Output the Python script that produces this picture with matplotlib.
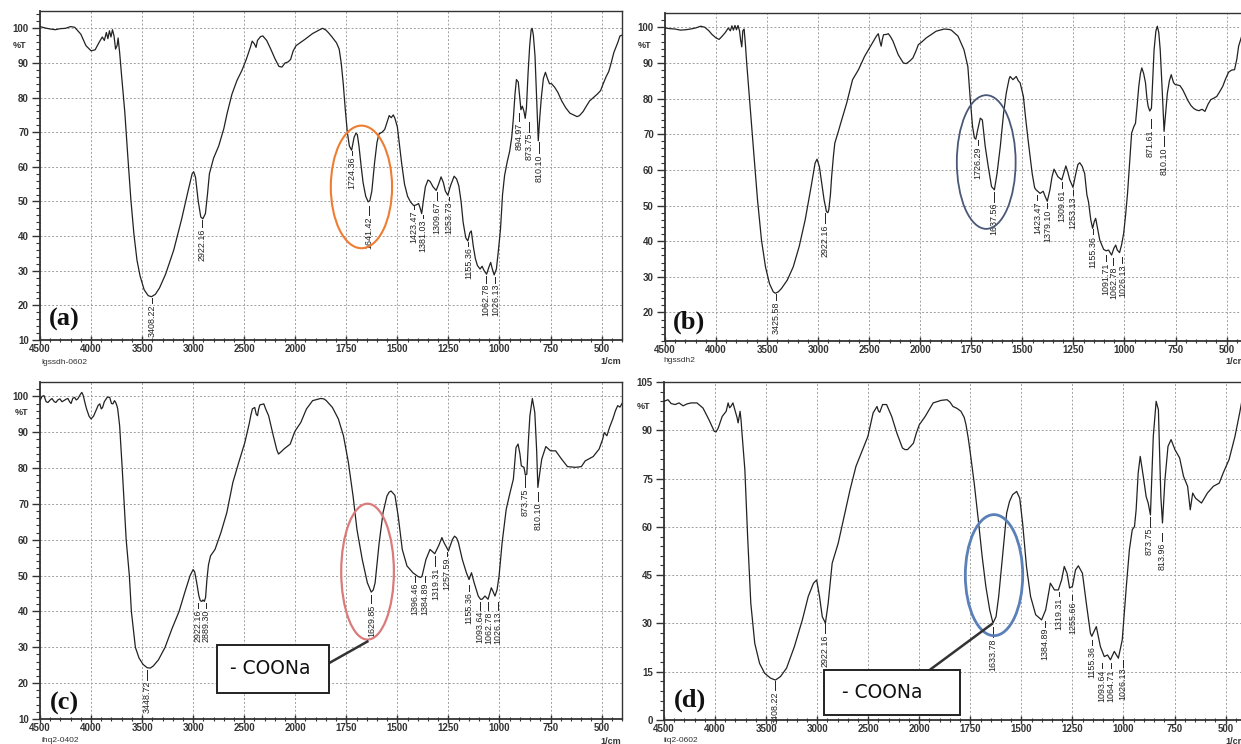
import numpy as np
import matplotlib
matplotlib.use("Agg")
import matplotlib.pyplot as plt
from matplotlib.patches import Ellipse, Rectangle

W, H = 1241, 744

# ---------------- spectra (wavenumber, %T) ----------------
wn_a = [4500, 4450, 4400, 4350, 4300, 4250, 4200, 4160, 4100, 4050, 4000, 3960, 3920, 3890, 3870, 3850, 3835,
        3820, 3805, 3790, 3775, 3760, 3745, 3735, 3720, 3700, 3670, 3640, 3610, 3580, 3550, 3520, 3480, 3440,
        3408, 3370, 3330, 3270, 3190, 3112, 3054, 3010, 2995, 2977, 2950, 2925, 2905, 2880, 2860, 2841, 2800,
        2750, 2700, 2667, 2620, 2570, 2520, 2480, 2440, 2422, 2400, 2384, 2370, 2340, 2318, 2280, 2240, 2200,
        2160, 2130, 2100, 2070, 2046, 2020, 1996, 1953, 1915, 1880, 1866, 1850, 1837, 1820, 1798, 1785, 1775,
        1765, 1755, 1745, 1735, 1724, 1712, 1703, 1696, 1688, 1678, 1668, 1655, 1643, 1635, 1625, 1612, 1600,
        1590, 1575, 1562, 1550, 1540, 1530, 1520, 1512, 1500, 1490, 1479, 1465, 1450, 1435, 1420, 1408, 1396,
        1388, 1381, 1372, 1363, 1350, 1340, 1325, 1310, 1298, 1286, 1275, 1265, 1253, 1240, 1222, 1210, 1199,
        1188, 1178, 1165, 1155, 1145, 1138, 1128, 1118, 1108, 1095, 1085, 1075, 1063, 1052, 1043, 1035, 1026,
        1015, 1005, 995, 985, 975, 962, 950, 940, 932, 924, 917, 908, 900, 895, 888, 880, 874, 868, 860, 852,
        845, 840, 834, 826, 818, 810, 803, 795, 785, 775, 765, 755, 745, 730, 714, 695, 675, 655, 637, 620, 608,
        590, 575, 559, 540, 521, 505, 492, 478, 465, 453, 440, 430, 420, 410, 400]
t_a = [100.5, 100.1, 99.8, 99.6, 99.9, 100.0, 100.5, 100.3, 98.3, 95.0, 93.5, 93.8, 96.0, 97.5, 96.5, 98.8, 97.0,
       99.3, 97.5, 99.6, 97.8, 94.0, 95.0, 97.2, 93.0, 86.0, 76.0, 63.0, 50.5, 40.5, 33.0, 28.5, 24.5, 22.8,
       22.5, 23.2, 25.0, 29.0, 36.0, 45.0, 52.5, 58.0, 58.6, 57.0, 50.0, 45.5, 45.0, 46.5, 52.0, 58.0, 62.5,
       66.0, 71.0, 75.5, 81.0, 85.0, 88.0, 91.0, 94.5, 96.3, 95.5, 94.5, 96.5, 97.6, 97.8, 96.5, 94.0, 91.3,
       89.0, 88.8, 90.0, 90.3, 91.0, 93.5, 95.0, 96.8, 98.5, 99.6, 100.0, 99.5, 98.7, 97.5, 95.8, 94.0, 90.0,
       84.0, 76.5, 70.0, 66.0, 64.8, 68.5, 69.7, 69.3, 66.0, 60.5, 55.5, 51.5, 49.9, 50.2, 53.0, 61.0, 67.0,
       69.5, 70.0, 70.8, 73.0, 74.8, 74.2, 75.0, 74.0, 71.5, 66.5, 61.0, 55.0, 51.5, 49.8, 48.8, 49.0, 49.4,
       48.0, 46.5, 50.5, 54.2, 56.2, 55.8, 54.2, 53.2, 55.0, 57.1, 55.5, 53.0, 51.8, 54.5, 57.3, 56.5, 54.5,
       50.0, 44.0, 39.5, 38.6, 41.0, 41.5, 37.0, 33.5, 31.5, 30.5, 31.3, 30.0, 29.0, 31.0, 32.4, 30.5, 28.8,
       30.5, 36.0, 42.0, 52.0, 57.5, 61.5, 64.5, 68.5, 74.0, 81.0, 85.2, 84.5, 79.5, 76.5, 77.5, 76.0, 74.0,
       77.0, 87.0, 95.0, 99.5, 100.0, 98.0, 92.0, 80.0, 67.5, 74.0, 80.0, 85.5, 87.3, 85.5, 84.0, 84.0, 83.0,
       81.5, 79.0, 77.0, 75.5, 75.0, 74.5, 74.8, 76.0, 77.5, 79.0, 80.0, 81.0, 82.0, 84.0, 86.0, 87.5, 90.0,
       93.0, 94.5, 96.0, 97.8, 98.0]

wn_b = [4500, 4450, 4400, 4350, 4300, 4250, 4200, 4150, 4110, 4070, 4040, 4000, 3970, 3940, 3910, 3880, 3860,
        3845, 3830, 3815, 3800, 3785, 3770, 3760, 3748, 3738, 3725, 3712, 3700, 3672, 3633, 3594, 3555, 3516,
        3477, 3440, 3419, 3390, 3360, 3302, 3244, 3186, 3127, 3069, 3030, 3011, 2988, 2965, 2942, 2919, 2905,
        2896, 2880, 2868, 2850, 2837, 2800, 2779, 2721, 2663, 2605, 2546, 2469, 2430, 2411, 2395, 2383, 2372,
        2360, 2330, 2313, 2290, 2267, 2216, 2166, 2140, 2127, 2100, 2072, 2040, 2019, 1990, 1971, 1922, 1883,
        1860, 1848, 1815, 1786, 1767, 1755, 1744, 1735, 1728, 1719, 1706, 1696, 1682, 1667, 1651, 1637, 1624,
        1608, 1592, 1579, 1565, 1560, 1546, 1530, 1520, 1511, 1495, 1485, 1472, 1452, 1440, 1433, 1413, 1398,
        1388, 1378, 1365, 1355, 1345, 1326, 1307, 1295, 1287, 1278, 1268, 1252, 1240, 1228, 1219, 1207, 1195,
        1184, 1176, 1165, 1156, 1148, 1141, 1130, 1121, 1102, 1090, 1078, 1063, 1052, 1043, 1035, 1024, 1014,
        1004, 995, 985, 975, 965, 955, 946, 938, 930, 922, 915, 906, 897, 890, 884, 876, 868, 861, 855, 846,
        839, 832, 825, 815, 806, 798, 790, 780, 771, 760, 751, 740, 728, 715, 703, 690, 674, 660, 648, 635,
        620, 606, 590, 577, 560, 548, 533, 519, 505, 490, 475, 461, 450, 441, 426, 400]
t_b = [99.8, 99.6, 99.5, 99.2, 99.3, 99.5, 99.8, 100.3, 100.0, 99.0, 98.0, 97.0, 96.6, 97.5, 98.5, 99.8, 99.0,
       100.4, 99.2, 100.5, 99.3, 100.5, 99.0, 96.5, 94.5, 99.0, 99.5, 95.0, 90.0, 79.7, 65.6, 51.6, 40.3, 32.8,
       28.1, 25.8, 25.4, 25.8, 26.7, 29.1, 32.8, 38.5, 46.0, 55.3, 61.9, 63.0, 60.9, 56.3, 51.6, 48.3, 48.0,
       48.8, 53.0, 58.1, 64.0, 67.5, 71.0, 73.1, 78.7, 85.3, 88.1, 91.8, 95.6, 97.5, 98.2, 96.0, 94.7, 96.5,
       97.9, 98.0, 98.2, 97.3, 96.1, 92.3, 90.0, 89.8, 90.0, 90.6, 91.4, 93.5, 95.1, 96.0, 97.0, 98.9, 99.5,
       99.4, 99.2, 97.5, 93.7, 89.0, 79.7, 72.2, 69.0, 68.6, 71.2, 74.5, 74.0, 66.6, 60.9, 55.3, 54.4, 59.0,
       66.6, 75.9, 81.5, 85.5, 86.2, 85.3, 86.2, 85.0, 84.4, 80.6, 75.0, 68.4, 59.0, 55.0, 54.4, 53.4, 54.0,
       52.5, 51.2, 54.4, 58.0, 60.2, 58.1, 57.2, 59.5, 61.1, 59.5, 57.2, 55.1, 58.5, 61.5, 62.0, 61.0, 59.0,
       53.0, 51.0, 46.0, 43.6, 45.5, 46.4, 43.0, 40.3, 37.7, 37.3, 37.5, 36.1, 38.0, 38.9, 37.5, 36.8, 39.0,
       42.2, 47.0, 53.4, 62.0, 70.3, 72.0, 73.1, 78.0, 83.4, 87.0, 88.6, 87.0, 84.4, 80.0, 77.8, 76.5, 77.3,
       86.0, 93.7, 99.0, 100.3, 98.5, 93.7, 82.0, 70.8, 76.0, 81.5, 85.0, 86.7, 84.5, 83.9, 83.8, 83.6, 82.5,
       81.1, 79.5, 78.0, 77.2, 76.8, 76.6, 77.0, 76.4, 78.5, 79.7, 80.2, 80.6, 82.0, 83.4, 85.5, 87.4, 88.0,
       88.1, 91.0, 94.7, 97.5, 98.5]

wn_c = [4500, 4480, 4461, 4440, 4422, 4400, 4383, 4360, 4344, 4325, 4305, 4285, 4266, 4245, 4227, 4210, 4196,
        4178, 4161, 4145, 4130, 4110, 4091, 4080, 4072, 4058, 4044, 4020, 4000, 3975, 3953, 3930, 3914, 3900,
        3887, 3870, 3856, 3840, 3817, 3800, 3786, 3770, 3759, 3748, 3739, 3720, 3695, 3672, 3656, 3625, 3605,
        3566, 3530, 3490, 3450, 3420, 3390, 3340, 3275, 3210, 3138, 3080, 3030, 3000, 2985, 2965, 2945, 2930,
        2915, 2905, 2890, 2878, 2865, 2850, 2830, 2786, 2728, 2670, 2611, 2553, 2494, 2450, 2436, 2420, 2397,
        2382, 2370, 2358, 2347, 2308, 2290, 2261, 2215, 2180, 2164, 2140, 2107, 2080, 2049, 2020, 2000, 1973,
        1945, 1915, 1876, 1860, 1848, 1818, 1789, 1764, 1740, 1717, 1698, 1672, 1647, 1628, 1618, 1609, 1589,
        1570, 1551, 1540, 1531, 1512, 1496, 1476, 1453, 1424, 1398, 1385, 1379, 1360, 1340, 1325, 1317, 1298,
        1282, 1270, 1263, 1250, 1240, 1230, 1220, 1210, 1201, 1182, 1162, 1149, 1137, 1124, 1104, 1093, 1085,
        1071, 1056, 1048, 1040, 1031, 1022, 1012, 1002, 987, 967, 948, 932, 919, 909, 900, 893, 880, 873, 866,
        858, 851, 839, 827, 818, 812, 803, 793, 773, 750, 725, 696, 667, 628, 599, 580, 541, 512, 495, 487, 474,
        460, 445, 432, 421, 410, 400]
t_c = [98.8, 100.0, 100.2, 98.5, 98.3, 99.0, 99.4, 98.5, 98.3, 99.0, 99.3, 98.5, 98.8, 99.2, 99.4, 98.5, 98.0,
       99.5, 99.7, 99.0, 99.3, 100.3, 101.1, 100.5, 99.7, 98.0, 96.5, 94.5, 93.7, 94.5, 96.0, 97.5, 97.9, 96.5,
       96.9, 98.5, 99.1, 99.8, 99.7, 98.0, 97.9, 98.8, 98.3, 97.5, 96.5, 91.8, 80.0, 68.0, 60.0, 50.0, 40.0,
       30.0, 27.0, 25.2, 24.3, 24.2, 24.8, 26.5, 30.0, 35.0, 40.0, 45.5, 50.0, 51.7, 51.0, 48.0, 44.5, 43.0,
       42.8, 43.2, 42.8, 44.0, 49.0, 53.0, 55.5, 57.3, 62.0, 67.6, 76.0, 81.6, 87.1, 92.5, 94.6, 96.5, 96.9,
       95.0, 94.6, 96.5, 97.6, 97.9, 96.5, 94.6, 89.0, 85.0, 83.9, 84.5, 85.4, 86.0, 86.7, 89.0, 90.4, 92.7,
       96.5, 98.8, 99.4, 99.3, 98.8, 96.9, 93.7, 89.0, 81.6, 72.2, 62.9, 54.5, 48.0, 45.4, 46.0, 48.0, 59.2,
       67.6, 72.2, 73.3, 73.6, 72.4, 66.6, 57.3, 52.7, 50.8, 49.7, 49.5, 49.9, 54.5, 57.3, 56.5, 56.1, 58.3,
       60.6, 59.0, 58.3, 56.9, 58.5, 60.1, 61.0, 60.5, 59.2, 54.5, 50.8, 48.9, 50.8, 48.0, 44.3, 43.4, 43.4,
       44.3, 43.4, 45.0, 46.6, 45.5, 44.3, 46.0, 49.9, 59.2, 68.5, 73.2, 76.9, 85.7, 86.7, 84.0, 80.6, 80.2,
       78.0, 78.3, 88.0, 94.6, 99.4, 95.5, 85.0, 74.6, 78.5, 82.5, 86.0, 84.8, 84.8, 82.5, 80.4, 80.2, 80.4,
       82.0, 83.2, 85.3, 88.0, 89.9, 89.0, 91.5, 93.7, 96.0, 97.4, 97.0, 98.0]

wn_d = [4500, 4461, 4430, 4391, 4352, 4313, 4274, 4235, 4177, 4118, 4060, 4008, 3990, 3969, 3930, 3891, 3872,
        3858, 3845, 3825, 3812, 3798, 3785, 3774, 3765, 3755, 3745, 3736, 3708, 3681, 3650, 3611, 3564, 3514,
        3456, 3409, 3359, 3300, 3223, 3145, 3087, 3036, 3005, 2977, 2950, 2919, 2892, 2853, 2794, 2736, 2678,
        2620, 2554, 2503, 2452, 2414, 2400, 2387, 2370, 2359, 2320, 2270, 2219, 2165, 2140, 2115, 2085, 2057,
        2030, 2000, 1971, 1932, 1893, 1864, 1850, 1835, 1815, 1796, 1780, 1771, 1760, 1750, 1731, 1711, 1692,
        1674, 1655, 1639, 1624, 1611, 1591, 1572, 1558, 1543, 1523, 1508, 1494, 1475, 1455, 1430, 1401, 1381,
        1358, 1338, 1319, 1303, 1290, 1276, 1264, 1250, 1235, 1221, 1201, 1182, 1162, 1155, 1148, 1133, 1113,
        1094, 1078, 1064, 1045, 1025, 1006, 986, 971, 957, 946, 938, 928, 918, 903, 889, 879, 868, 854, 840,
        829, 817, 809, 797, 782, 767, 748, 725, 706, 686, 673, 661, 647, 618, 589, 560, 531, 512, 483, 454,
        431, 419, 405]
t_d = [99.0, 99.5, 98.3, 98.0, 98.5, 97.6, 98.2, 98.5, 98.5, 96.9, 93.3, 89.7, 89.5, 90.7, 94.3, 95.9, 98.5,
       97.0, 97.4, 98.5, 97.0, 95.4, 94.0, 92.3, 94.0, 95.9, 93.0, 89.1, 77.7, 57.0, 36.3, 23.8, 17.6, 14.5,
       13.0, 12.4, 13.5, 16.1, 22.8, 31.1, 38.4, 42.5, 43.5, 38.4, 32.1, 30.1, 36.3, 48.7, 54.9, 63.2, 71.5,
       78.8, 84.0, 88.1, 95.4, 97.4, 96.0, 95.6, 97.0, 98.0, 98.0, 94.3, 89.1, 84.5, 84.0, 84.0, 85.0, 86.0,
       89.0, 91.7, 94.3, 98.5, 99.3, 99.5, 98.8, 97.4, 96.8, 95.9, 94.0, 91.7, 87.5, 82.9, 73.6, 62.2, 50.8,
       41.5, 34.2, 30.1, 32.1, 38.4, 51.8, 64.3, 67.9, 70.0, 71.0, 68.9, 61.2, 47.7, 38.4, 32.7, 31.1, 34.2,
       42.5, 40.4, 40.4, 43.5, 47.7, 45.5, 41.0, 41.5, 46.6, 47.9, 45.6, 36.3, 27.0, 26.0, 27.0, 29.0, 22.8,
       19.7, 20.2, 18.7, 21.3, 19.2, 24.9, 41.5, 52.9, 59.1, 60.1, 65.3, 76.7, 81.9, 75.7, 69.4, 67.4, 63.7,
       88.1, 99.0, 96.4, 69.4, 61.2, 74.6, 85.0, 87.1, 84.0, 81.4, 75.7, 72.6, 65.3, 70.5, 68.9, 67.4, 70.5,
       72.6, 73.6, 76.7, 80.9, 88.1, 95.4, 99.5, 102.0]

# ---------------- peak labels ----------------
peaks_a = ["3408.22", "2922.16", "1724.36", "1641.42", "1423.47", "1381.03", "1309.67", "1253.73", "1155.36",
           "1062.78", "1026.13", "894.97", "873.75", "810.10"]
peaks_b = ["3425.58", "2922.16", "1726.29", "1637.56", "1423.47", "1379.10", "1309.61", "1253.13", "1155.36",
           "1091.71", "1062.78", "1026.13", "871.61", "810.10"]
peaks_c = ["3448.72", "2922.16", "2889.30", "1629.85", "1396.46", "1384.89", "1319.31", "1257.59", "1155.36",
           "1093.64", "1062.78", "1026.13", "873.75", "810.10"]
peaks_d = ["3408.22", "2922.16", "1633.78", "1384.89", "1319.31", "1255.66", "1155.36", "1093.64", "1064.71",
           "1026.13", "873.75", "813.96"]

# label layout: (text x, line top, line bottom) in data units
lay_a = [(3405, 22.2, 20.6), (2912, 44.6, 42.6), (1721, 64.6, 63.4), (1638, 48.6, 46.2), (1420, 48.9, 47.7),
         (1376, 46.2, 45.2), (1307, 52.8, 50.4), (1247, 51.3, 50.3), (1152, 38.4, 37.2), (1068, 28.5, 26.6),
         (1020, 28.3, 26.6), (903, 75.5, 73.2), (856, 73.0, 70.2), (806, 67.3, 63.9)]
lay_b = [(3410, 25.2, 23.5), (2929, 47.8, 45.0), (1718, 68.4, 67.0), (1640, 53.9, 51.1), (1426, 53.0, 51.6),
         (1377, 50.6, 49.2), (1305, 56.7, 54.8), (1251, 54.4, 53.0), (1153, 43.3, 41.9), (1091, 36.2, 34.4),
         (1054, 35.3, 33.4), (1010, 35.7, 33.8), (872, 74.2, 71.8), (804, 69.6, 66.8)]
lay_c = [(3450, 23.8, 21.0), (2950, 42.4, 41.0), (2878, 42.4, 41.0), (1627, 44.7, 42.4), (1414, 49.8, 48.3),
         (1366, 49.8, 48.3), (1314, 55.5, 52.7), (1256, 56.7, 55.5), (1151, 47.5, 45.7), (1097, 42.6, 40.5),
         (1054, 42.6, 40.5), (1009, 42.6, 40.5), (874, 77.8, 74.6), (811, 73.2, 70.8)]
lay_d = [(3408, 12.2, 9.3), (2920, 30.0, 26.9), (1639, 29.0, 25.9), (1385, 30.6, 29.0), (1317, 39.9, 38.4),
         (1250, 38.9, 37.3), (1155, 24.9, 23.3), (1106, 17.6, 16.1), (1061, 17.6, 16.1), (1003, 18.7, 16.6),
         (872, 63.2, 60.1), (810, 58.0, 55.5)]

sample_names = ["lgssdh-0602", "hgssdh2", "ihq2-0402", "iiq2-0602"]
panel_tags = ["(a)", "(b)", "(c)", "(d)"]

xmajor = [4500, 4000, 3500, 3000, 2500, 2000, 1750, 1500, 1250, 1000, 750, 500]
xminor = list(range(4500, 2000, -100)) + list(range(2000, 399, -50))


# Shimadzu style axis: 2x expansion below 2000 1/cm
def fwd(x):
    x = np.asarray(x, dtype=float)
    return np.where(x <= 2000, x / 250.0, 8 + (x - 2000) / 500.0)


def inv(u):
    u = np.asarray(u, dtype=float)
    return np.where(u <= 8, u * 250.0, 2000 + (u - 8) * 500.0)


def px_axes(x0, x1, y0, y1):
    return [x0 / W, 1 - y1 / H, (x1 - x0) / W, (y1 - y0) / H]


def ftext(x, y, s, **kw):
    fig.text(x / W, 1 - y / H, s, **kw)


SANS = "Liberation Sans"
INK = "#222222"

fig = plt.figure(figsize=(W / 100, H / 100), dpi=100)


def panel(rect, wn, t, ylim, yticks, yminor, names, lay):
    ax = fig.add_axes(px_axes(*rect))
    ax.set_xscale("function", functions=(fwd, inv))
    ax.set_xlim(4500, 400)
    ax.set_ylim(*ylim)
    ax.set_xticks(xmajor)
    ax.set_xticks(xminor, minor=True)
    ax.set_xticklabels([str(v) for v in xmajor])
    ax.set_yticks(yticks)
    ax.set_yticks(yminor, minor=True)
    ax.set_yticklabels([str(v) for v in yticks])
    ax.grid(True, which="major", linestyle=(0, (2, 2)), color="#a0a0a0", lw=0.7)
    ax.tick_params(axis="x", which="major", direction="inout", length=6, width=1.0, pad=0,
                   labelsize=7, labelcolor="#333333", color="#333333")
    ax.tick_params(axis="x", which="minor", direction="inout", length=3, width=0.8, color="#333333")
    ax.tick_params(axis="y", which="major", direction="out", length=6, width=1.0, pad=2,
                   labelsize=7, labelcolor="#333333", color="#333333")
    ax.tick_params(axis="y", which="minor", direction="out", length=3, width=0.8, color="#333333")
    for lab in ax.get_xticklabels() + ax.get_yticklabels():
        lab.set_fontweight("bold")
        lab.set_family(SANS)
    for sp in ax.spines.values():
        sp.set_color("#333333")
        sp.set_linewidth(1.0)
    ax.spines["left"].set_linewidth(1.3)
    ax.spines["bottom"].set_linewidth(1.3)
    ax.plot(wn, t, color=INK, lw=0.9, zorder=3)
    for name, (tx, top, bot) in zip(names, lay):
        ax.plot([tx, tx], [top, bot], color=INK, lw=0.7, zorder=3)
        ax.annotate(name, xy=(tx, bot), xytext=(0, -1), textcoords="offset points", rotation=90,
                    ha="center", va="top", fontsize=6.4, family=SANS, color=INK, zorder=4)
    return ax


ax_a = panel((40, 622, 11, 340), wn_a, t_a, (10, 105), list(range(10, 101, 10)), list(range(10, 105, 2)),
             peaks_a, lay_a)
ax_b = panel((665, 1247, 13, 341), wn_b, t_b, (12, 104), list(range(20, 101, 10)), list(range(12, 104, 2)),
             peaks_b, lay_b)
ax_c = panel((40, 622, 382, 719), wn_c, t_c, (10, 104), list(range(10, 101, 10)), list(range(10, 104, 2)),
             peaks_c, lay_c)
ax_d = panel((664, 1246, 382, 720), wn_d, t_d, (0, 105), list(range(0, 106, 15)), list(range(0, 106, 3)),
             peaks_d, lay_d)

# highlight ellipses
ax_a.add_patch(Ellipse((1676, 54.2), 300, 35.4, fill=False, ec="#ee7d32", lw=1.5, zorder=5))
ax_b.add_patch(Ellipse((1677, 62.2), 288, 37.5, fill=False, ec="#4a5878", lw=1.3, zorder=5))
ax_c.add_patch(Ellipse((1646, 51.1), 258, 37.9, fill=False, ec="#d97b7b", lw=1.6, zorder=5))
ax_d.add_patch(Ellipse((1634, 45.0), 281, 37.6, fill=False, ec="#5b80b8", lw=2.0, zorder=5))

# -COONa call-outs
ax_c.plot([1831, 1647], [25.7, 31.6], color="#333333", lw=1.8, zorder=5)
ax_c.add_patch(Rectangle((2770, 17.3), 1835 - 2770, 30.7 - 17.3, fc="white", ec="#222222", lw=1.4, zorder=6))
ax_c.text(2245, 24.0, "- COONa", ha="center", va="center", fontsize=13.5, color="#111111", zorder=7)
ax_d.plot([1950, 1645], [15.5, 29.8], color="#333333", lw=1.8, zorder=5)
ax_d.add_patch(Rectangle((2931, 1.5), 1800 - 2931, 15.5 - 1.5, fc="white", ec="#222222", lw=1.4, zorder=6))
ax_d.text(2365, 8.5, "- COONa", ha="center", va="center", fontsize=13.5, color="#111111", zorder=7)

# figure annotations
tag_pos = [(64, 319), (689, 322), (64, 703), (690, 700)]
pct_pos = [(20, 46), (645, 46), (22, 413), (644, 407)]
name_pos = [(41, 362), (663, 361), (41, 741), (663, 741)]
cm_pos = [(621, 362), (1246, 361), (621, 741), (1246, 741)]
for i in range(4):
    ftext(*tag_pos[i], panel_tags[i], ha="center", va="center", fontsize=19, fontweight="bold",
          family="Liberation Serif", color="#111111")
    ftext(*pct_pos[i], "%T", ha="center", va="center", fontsize=6.5, fontweight="bold",
          family=SANS, color="#333333")
    ftext(*name_pos[i], sample_names[i], ha="left", va="center", fontsize=6,
          family=SANS, color="#333333")
    ftext(*cm_pos[i], "1/cm", ha="right", va="center", fontsize=6.5, fontweight="bold",
          family=SANS, color="#333333")

fig.savefig("out.png", dpi=100)
